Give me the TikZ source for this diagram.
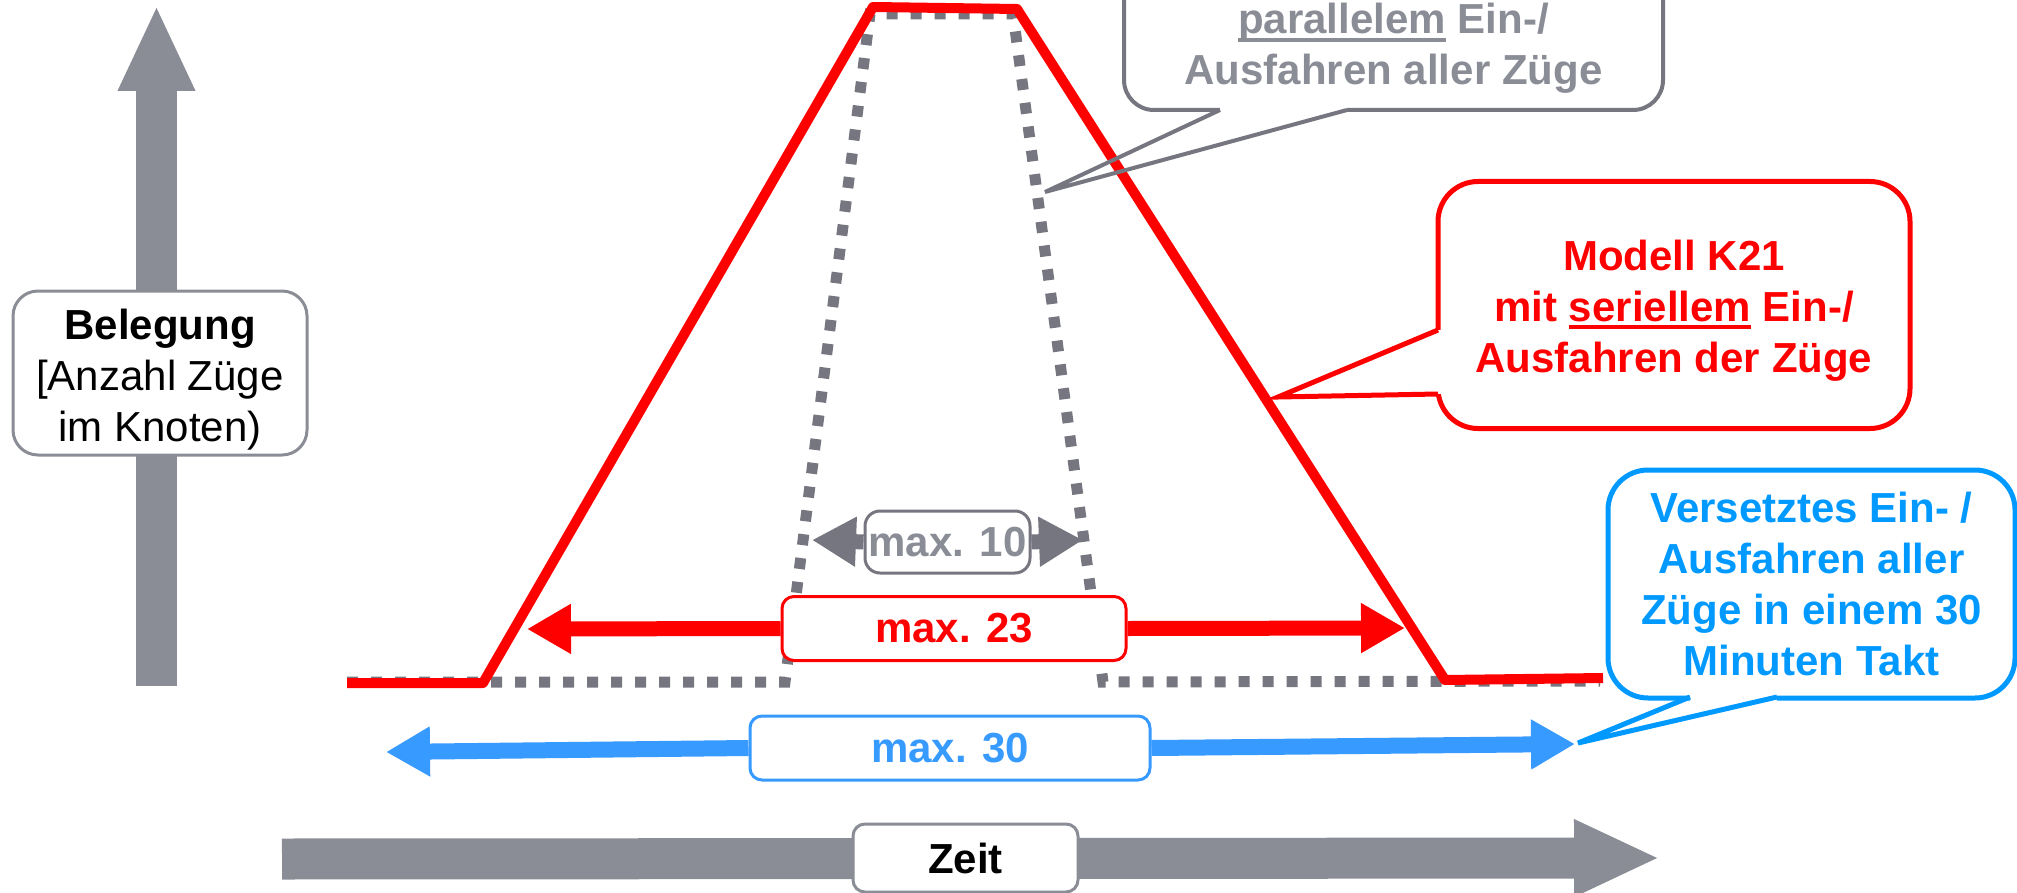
\documentclass[tikz,border=0pt]{standalone}
\usepackage{fontspec}
\setmainfont{Liberation Sans}
\usepackage{tikz}
\usetikzlibrary{positioning}
\usetikzlibrary{arrows.meta}

\definecolor{axisgrey}{RGB}{138,141,150}
\definecolor{darkgrey}{RGB}{118,118,128}
\definecolor{k21red}{RGB}{255,0,0}
\definecolor{taktblue}{RGB}{0,153,255}
\definecolor{arrowblue}{RGB}{55,154,255}

\newcommand{\ulword}[1]{\setbox0\hbox{#1}\rlap{\rule[-8pt]{\wd0}{4pt}}\box0\relax}

\begin{document}
\begin{tikzpicture}[x=1pt, y=-1pt,
txt/.style={font=\fontsize{42pt}{51pt}\selectfont\bfseries, align=center, inner sep=2pt},
labelbox/.style={txt, rectangle, draw, fill=white, line width=3pt, rounded corners=12pt},
callbox/.style={txt, rectangle, draw, fill=white, line width=5pt, rounded corners=40pt},
axisarrow/.style={axisgrey, line width=41pt, -{Triangle[length=86pt, width=71pt]}},
maxarrow/.style={line width=15pt, -{Triangle[length=44pt, width=47pt]}},
]
\useasboundingbox (0,0) rectangle (2017,893);
\clip (0,0) rectangle (2017,893);

%Axes
\draw[axisarrow] (156.5,686) -- (156.5,5);
\draw[axisarrow] (282,859) -- (1660,858);

%Curves
\draw[darkgrey, line width=11pt, dash pattern=on 11pt off 13pt]
  (347,682) -- (785,682) -- (870,14) -- (1013,14) -- (1103,682) -- (1600,681);
\draw[k21red, line width=10pt, line join=round]
  (347,683) -- (483,683) -- (873,7) -- (1017,9) -- (1445,680) -- (1603,678);

%Nodes
\node[labelbox, draw=axisgrey, rounded corners=25pt, font=\fontsize{42pt}{51pt}\selectfont,
  minimum width=294pt, minimum height=164pt] (beleg) at (160,373)
  {\rule{0pt}{43pt}\textbf{Belegung}\\{[}Anzahl Züge\\im Knoten)};
\node[labelbox, draw=axisgrey, minimum width=225pt, minimum height=68pt] (zeit) at (965.5,858) {Zeit};

\node[labelbox, draw=darkgrey, text=axisgrey, rounded corners=15pt,
  minimum width=165pt, minimum height=62pt] (max10) at (947.5,542) {max. 10};
\node[labelbox, draw=k21red, text=k21red, minimum width=344pt, minimum height=64pt] (max23) at (954,628.5) {max. 23};
\node[labelbox, draw=arrowblue, text=arrowblue, minimum width=400pt, minimum height=64pt] (max30) at (950,748) {max. 30};

\node[callbox, draw=darkgrey, line width=4pt, rounded corners=30pt,
  minimum width=539pt, minimum height=200pt] (parbox) at (1393.5,10) {};
\node[txt, text=axisgrey, above=16pt of parbox.south] (partext)
  {\ulword{parallelem} Ein-/\\Ausfahren aller Züge};
\node[callbox, draw=k21red, text=k21red, minimum width=472pt, minimum height=247pt] (k21) at (1674,305)
  {\rule{0pt}{41pt}Modell K21\\mit \ulword{seriellem} Ein-/\\Ausfahren der Züge};
\node[callbox, draw=taktblue, text=taktblue, minimum width=407pt, minimum height=228pt] (takt) at (1811.5,584)
  {Versetztes Ein- /\\Ausfahren aller\\Züge in einem 30\\Minuten Takt};

%Coordinates
\coordinate (l10) at (812,540);
\coordinate (r10) at (1083,540);
\coordinate (l23) at (527,629);
\coordinate (r23) at (1405,628);
\coordinate (l30) at (386,752);
\coordinate (r30) at (1575,744);
\coordinate (parL) at (1220,110);
\coordinate (parR) at (1347,110);
\coordinate (parTip) at (1045,192);
\coordinate (k21T) at (1438,330);
\coordinate (k21B) at (1438,394);
\coordinate (k21Tip) at (1278,397);
\coordinate (taktL) at (1690,697);
\coordinate (taktR) at (1777,697);
\coordinate (taktTip) at (1578,743);

%Lines
\draw[maxarrow, darkgrey] (max10.west) -- (l10);
\draw[maxarrow, darkgrey] (max10.east) -- (r10);
\draw[maxarrow, k21red] (max23.west) -- (l23);
\draw[maxarrow, k21red] (max23.east) -- (r23);
\draw[maxarrow, arrowblue, line width=16pt] (max30.west) -- (l30);
\draw[maxarrow, arrowblue, line width=16pt] (max30.east) -- (r30);

%Pointers
\fill[white] ([yshift=-4pt]parL) rectangle ([yshift=4pt]parR);
\draw[darkgrey, line width=4pt] (parL) -- (parTip) -- (parR);
\fill[white] ([xshift=-4pt]k21T) rectangle ([xshift=4pt]k21B);
\draw[k21red, line width=5pt] (k21T) -- (k21Tip) -- (k21B);
\fill[white] ([yshift=-4pt]taktL) rectangle ([yshift=4pt]taktR);
\draw[taktblue, line width=5pt] (taktL) -- (taktTip) -- (taktR);
\end{tikzpicture}
\end{document}
